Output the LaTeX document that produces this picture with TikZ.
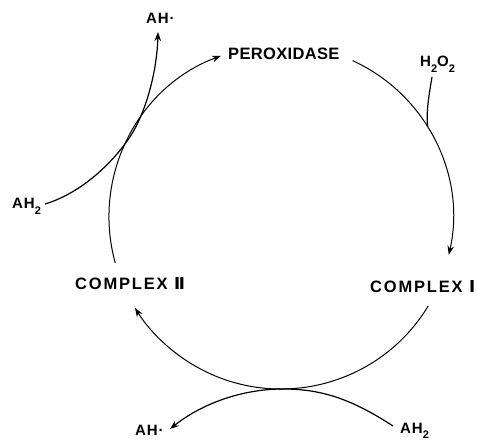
\documentclass[tikz,border=0pt]{standalone}
\usepackage{fontspec}
\setmainfont{Liberation Sans}
\newfontfamily\perfont[LetterSpace=2]{Liberation Sans}
\newfontfamily\cxfont[LetterSpace=11]{Liberation Sans}
\newfontfamily\smfont[LetterSpace=6]{Liberation Sans}
\newfontfamily\numfont{DejaVu Sans}
\usetikzlibrary{arrows.meta,calc}
\newcommand{\mysub}[1]{\raisebox{-5.5pt}{\fontsize{11}{11}\selectfont #1}}
\begin{document}
\begin{tikzpicture}[x=1pt,y=1pt,
  lab/.style={inner sep=0pt, anchor=base west},
  perlab/.style={lab, font=\perfont\bfseries\fontsize{16.5}{18}\selectfont},
  cxlab/.style={lab, font=\cxfont\bfseries\fontsize{16.5}{18}\selectfont},
  smlab/.style={lab, font=\smfont\bfseries\fontsize{15}{17}\selectfont},
  tip/.style={-{Stealth[length=9pt,width=6.5pt]}},
  cyc/.style={line width=1pt, tip},
  side/.style={line width=1.2pt}]
\useasboundingbox (0,0) rectangle (477,441);
\coordinate (c) at (281,224);
% labels
\node[perlab] (per) at (228,381) {PEROXIDASE};
\node[cxlab] (c1) at (370,148) {COMPLEX {\numfont Ⅰ}};
\node[cxlab] (c2) at (75,151) {COMPLEX {\numfont Ⅱ}};
\node[smlab] (aht) at (146,417) {AH·};
\node[smlab] (h2o2) at (420,374) {H\mysub{2}O\mysub{2}};
\node[smlab] (ah2l) at (12,232) {AH\mysub{2}};
\node[smlab] (ahb) at (135,5) {AH·};
\node[smlab] (ah2b) at (400,7.5) {AH\mysub{2}};
% cycle arcs
\draw[cyc] ($(c)+(65.4:172)$) arc[start angle=65.4, end angle=-12.7, radius=172pt];
\draw[cyc] ($(c)+(-31.1:172)$) arc[start angle=-31.1, end angle=-148.1, radius=172pt];
\draw[cyc] ($(c)+(195.5:172)$) arc[start angle=195.5, end angle=110.4, radius=172pt];
% side reactions
\coordinate (ah2lp) at (45,237);
\coordinate (ahtp) at (158,409);
\coordinate (h2o2p) at (432,364);
\coordinate (h2o2j) at ($(c)+(31.5:172)$);
\coordinate (ah2bp) at (393,15);
\coordinate (ahbp) at (170,12);
\draw[side, tip] (ah2lp) .. controls (85,249) and (118,284) .. (133,309)
   .. controls (147,333) and (157,371) .. (ahtp);
\draw[side] (h2o2p) .. controls (429,346) and (426,329) .. (h2o2j);
\draw[side, tip] (ah2bp) .. controls (350,43) and (320,52) .. (283,52)
   .. controls (240,52) and (200,36) .. (ahbp);
\end{tikzpicture}
\end{document}
